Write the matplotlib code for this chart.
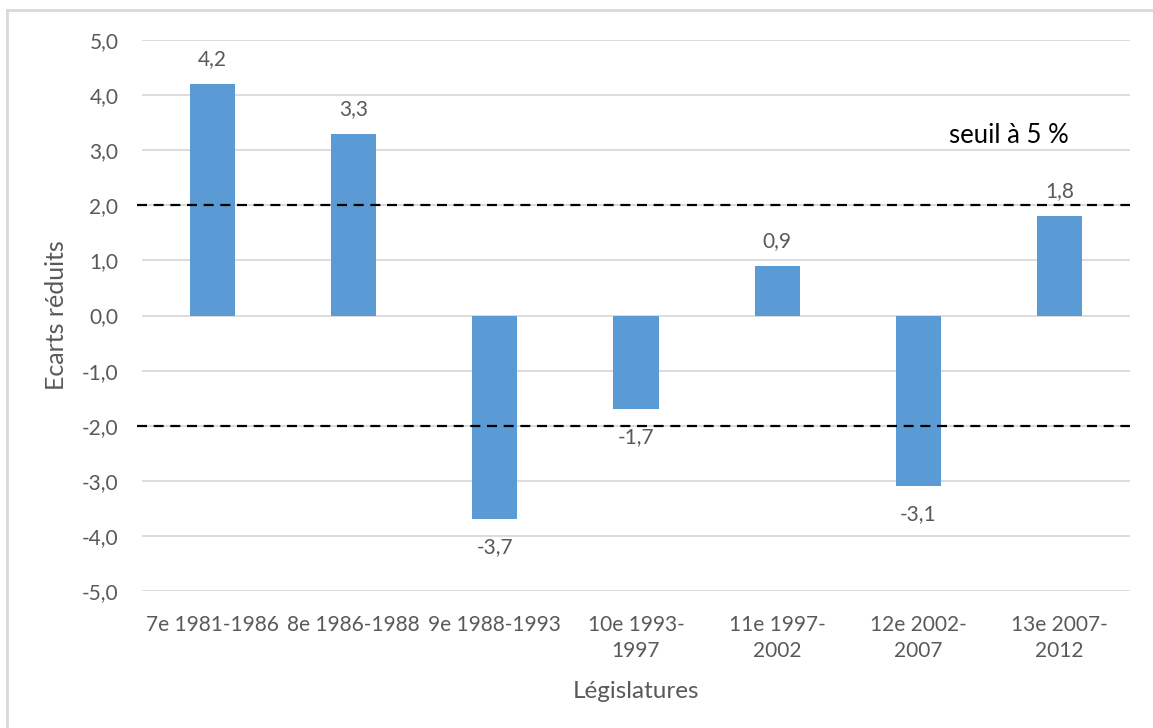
import matplotlib
matplotlib.use("Agg")
import matplotlib.pyplot as plt
from matplotlib.lines import Line2D
from matplotlib.ticker import FuncFormatter

categories = ["7e 1981-1986", "8e 1986-1988", "9e 1988-1993", "10e 1993-\n1997",
              "11e 1997-\n2002", "12e 2002-\n2007", "13e 2007-\n2012"]
values = [4.2, 3.3, -3.7, -1.7, 0.9, -3.1, 1.8]
yticks = [-5, -4, -3, -2, -1, 0, 1, 2, 3, 4, 5]
thresholds = [2.0, -2.0]

plt.rcParams['font.family'] = ['Lato', 'DejaVu Sans']
W, H = 1153, 728
fig = plt.figure(figsize=(W / 100, H / 100), dpi=100)
ax = fig.add_axes([142 / W, 1 - 591 / H, (1130 - 142) / W, (591 - 40) / H])

grey = "#595959"
x = list(range(len(categories)))
ax.bar(x, values, width=0.32, color="#5B9BD5", zorder=2)
ax.set_xlim(-0.5, len(categories) - 0.5)
ax.set_ylim(-5, 5)
ax.set_yticks(yticks)
ax.yaxis.set_major_formatter(FuncFormatter(lambda v, p: f"{v:.1f}".replace(".", ",")))
ax.set_xticks(x)
ax.set_xticklabels(categories, fontsize=15, color=grey, linespacing=1.4)
ax.tick_params(axis='y', labelsize=15, labelcolor=grey, length=0, pad=17)
ax.tick_params(axis='x', length=0, pad=17)
ax.grid(axis='y', color="#D9D9D9", lw=1.3, zorder=0)
for s in ax.spines.values():
    s.set_visible(False)

for t in thresholds:
    ax.axhline(t, xmin=-0.005, xmax=1.0, color="black", lw=1.6, ls=(0, (4.5, 3)),
               zorder=3, clip_on=False)

for xi, v in zip(x, values):
    lbl = f"{v:.1f}".replace(".", ",")
    off = 18 if v >= 0 else -20
    ax.annotate(lbl, (xi, v), xytext=(0, off), textcoords="offset points",
                ha="center", va="center", fontsize=15, color=grey)

ax.text(5.64, 3.27, "seuil à 5 %", fontsize=18.5, color="black", ha="center", va="center")

ax.set_ylabel("Ecarts réduits", fontsize=18, color=grey)
ax.yaxis.set_label_coords(-(142 - 68) / 988, 0.5)
ax.set_xlabel("Législatures", fontsize=17.5, color=grey, va="center")
ax.xaxis.set_label_coords(0.5, -(692 - 591) / 551)

fig.add_artist(Line2D([7 / W, 7 / W], [0, 1 - 10 / H], color="#D9D9D9", lw=2,
                      transform=fig.transFigure))
fig.add_artist(Line2D([7 / W, 1], [1 - 10 / H, 1 - 10 / H], color="#D9D9D9", lw=2,
                      transform=fig.transFigure))

fig.savefig("out.png", dpi=100)
